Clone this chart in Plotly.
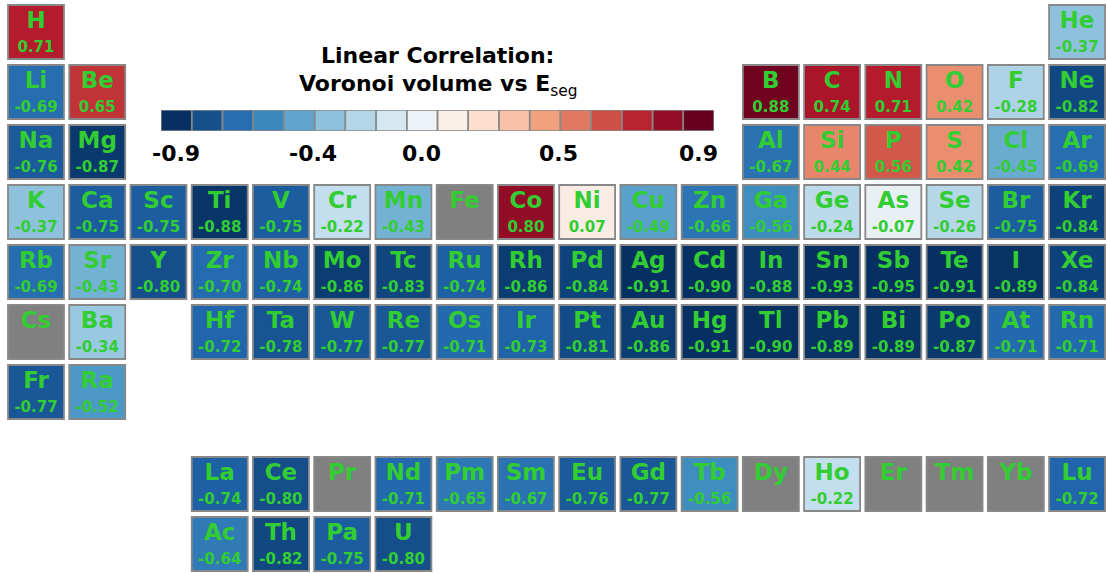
"""
Periodic table heatmap: linear correlation of Voronoi volume vs E_seg
"""
import numpy as np
import plotly.graph_objects as go
import plotly.express as px
from plotly.colors import sample_colorscale

# --- data -------------------------------------------------------------
symbols = ['H', 'He',
           'Li', 'Be', 'B', 'C', 'N', 'O', 'F', 'Ne',
           'Na', 'Mg', 'Al', 'Si', 'P', 'S', 'Cl', 'Ar',
           'K', 'Ca', 'Sc', 'Ti', 'V', 'Cr', 'Mn', 'Fe', 'Co', 'Ni', 'Cu', 'Zn',
           'Ga', 'Ge', 'As', 'Se', 'Br', 'Kr',
           'Rb', 'Sr', 'Y', 'Zr', 'Nb', 'Mo', 'Tc', 'Ru', 'Rh', 'Pd', 'Ag', 'Cd',
           'In', 'Sn', 'Sb', 'Te', 'I', 'Xe',
           'Cs', 'Ba', 'Hf', 'Ta', 'W', 'Re', 'Os', 'Ir', 'Pt', 'Au', 'Hg',
           'Tl', 'Pb', 'Bi', 'Po', 'At', 'Rn',
           'Fr', 'Ra',
           'La', 'Ce', 'Pr', 'Nd', 'Pm', 'Sm', 'Eu', 'Gd', 'Tb', 'Dy', 'Ho',
           'Er', 'Tm', 'Yb', 'Lu',
           'Ac', 'Th', 'Pa', 'U']

# table columns (f-block rows are laid out from column 4 onwards)
groups = [1, 18,
          1, 2, 13, 14, 15, 16, 17, 18,
          1, 2, 13, 14, 15, 16, 17, 18,
          1, 2, 3, 4, 5, 6, 7, 8, 9, 10, 11, 12, 13, 14, 15, 16, 17, 18,
          1, 2, 3, 4, 5, 6, 7, 8, 9, 10, 11, 12, 13, 14, 15, 16, 17, 18,
          1, 2, 4, 5, 6, 7, 8, 9, 10, 11, 12, 13, 14, 15, 16, 17, 18,
          1, 2,
          4, 5, 6, 7, 8, 9, 10, 11, 12, 13, 14, 15, 16, 17, 18,
          4, 5, 6, 7]

# table rows (lanthanide / actinide rows sit below the main block)
rows = [1] * 2 + [2] * 8 + [3] * 8 + [4] * 18 + [5] * 18 + [6] * 17 + [7] * 2 \
    + [8.533] * 15 + [9.533] * 4

values = [0.71, -0.37,
          -0.69, 0.65, 0.88, 0.74, 0.71, 0.42, -0.28, -0.82,
          -0.76, -0.87, -0.67, 0.44, 0.56, 0.42, -0.45, -0.69,
          -0.37, -0.75, -0.75, -0.88, -0.75, -0.22, -0.43, None, 0.80, 0.07,
          -0.49, -0.66, -0.56, -0.24, -0.07, -0.26, -0.75, -0.84,
          -0.69, -0.43, -0.80, -0.70, -0.74, -0.86, -0.83, -0.74, -0.86, -0.84,
          -0.91, -0.90, -0.88, -0.93, -0.95, -0.91, -0.89, -0.84,
          None, -0.34, -0.72, -0.78, -0.77, -0.77, -0.71, -0.73, -0.81, -0.86,
          -0.91, -0.90, -0.89, -0.89, -0.87, -0.71, -0.71,
          -0.77, -0.52,
          -0.74, -0.80, None, -0.71, -0.65, -0.67, -0.76, -0.77, -0.56, None,
          -0.22, None, None, None, -0.72,
          -0.64, -0.82, -0.75, -0.80]

cbar_values = list(np.linspace(-0.9, 0.9, 18))
cbar_ticktext = ['-0.9', '-0.4', '0.0', '0.5', '0.9']
cbar_tickpos = [0, 4.45, 7.97, 12.43, 17]

vmin, vmax = -0.9, 0.9
colorscale = px.colors.diverging.RdBu_r

TEXT_GREEN = 'rgb(50,205,50)'
EDGE = 'rgb(136,136,136)'
FONT = 'DejaVu Sans'

fig = go.Figure()

# --- element cells ------------------------------------------------------
hw, hh = 0.457, 0.45
for sym, g, r, v in zip(symbols, groups, rows, values):
    if v is None:
        fill = 'rgb(128,128,128)'
    else:
        norm = min(max((v - vmin) / (vmax - vmin), 0), 1)
        fill = sample_colorscale(colorscale, [norm])[0]
    fig.add_shape(type='rect', xref='x', yref='y',
                  x0=g - hw, x1=g + hw, y0=r - hh, y1=r + hh,
                  fillcolor=fill, line=dict(color=EDGE, width=1.8),
                  layer='below')

fig.add_trace(go.Scatter(
    x=groups, y=[r - 0.17 for r in rows], text=symbols, mode='text',
    textfont=dict(family=FONT, size=23, color=TEXT_GREEN, weight='bold'),
    hoverinfo='skip', showlegend=False, xaxis='x', yaxis='y'))

val_x = [g for g, v in zip(groups, values) if v is not None]
val_y = [r + 0.27 for r, v in zip(rows, values) if v is not None]
val_t = [f"{v:.2f}" for v in values if v is not None]
fig.add_trace(go.Scatter(
    x=val_x, y=val_y, text=val_t, mode='text',
    textfont=dict(family=FONT, size=15, color=TEXT_GREEN, weight='bold'),
    hoverinfo='skip', showlegend=False, xaxis='x', yaxis='y'))

# --- discrete colour bar ------------------------------------------------
fig.add_trace(go.Heatmap(
    z=[cbar_values], x=list(range(18)), y=[0.5],
    colorscale=colorscale, zmin=vmin, zmax=vmax, showscale=False,
    hoverinfo='skip', xaxis='x2', yaxis='y2'))
for i in range(18):
    fig.add_shape(type='rect', xref='x2', yref='y2',
                  x0=i - 0.5, x1=i + 0.5, y0=0, y1=1,
                  fillcolor='rgba(0,0,0,0)', line=dict(color=EDGE, width=1.5))

for pos, txt in zip(cbar_tickpos, cbar_ticktext):
    fig.add_annotation(x=pos, y=1 - 153 / 573, xref='x2', yref='paper',
                       xanchor='center', yanchor='middle',
                       text=f"<b>{txt}</b>", showarrow=False,
                       font=dict(family=FONT, size=22, color='black'))

title_x = (161 + 714) / 2 / 1107
fig.add_annotation(x=title_x, y=1 - 56 / 573,
                   xref='paper', yref='paper', showarrow=False,
                   xanchor='center', yanchor='middle',
                   text="<b>Linear Correlation:</b>",
                   font=dict(family=FONT, size=22, color='black'))
fig.add_annotation(x=title_x, y=1 - 85 / 573,
                   xref='paper', yref='paper', showarrow=False,
                   xanchor='center', yanchor='middle',
                   text="<b>Voronoi volume vs E</b><sub>seg</sub>",
                   font=dict(family=FONT, size=22, color='black'))

# --- layout -------------------------------------------------------------
fig.update_layout(
    width=1107, height=573,
    margin=dict(l=0, r=0, t=0, b=0),
    paper_bgcolor='white', plot_bgcolor='white',
    xaxis=dict(range=[0.4122, 18.489], visible=False, domain=[0, 1]),
    yaxis=dict(range=[10.0167, 0.4667], visible=False, domain=[0, 1]),
    xaxis2=dict(range=[-0.5, 17.5], visible=False,
                domain=[161 / 1107, 714 / 1107], anchor='y2'),
    yaxis2=dict(range=[0, 1], visible=False,
                domain=[1 - 131 / 573, 1 - 110 / 573], anchor='x2'),
    showlegend=False,
)

fig.write_html("out.html", config={'displayModeBar': False},
               post_script="document.body.style.margin='0';")
